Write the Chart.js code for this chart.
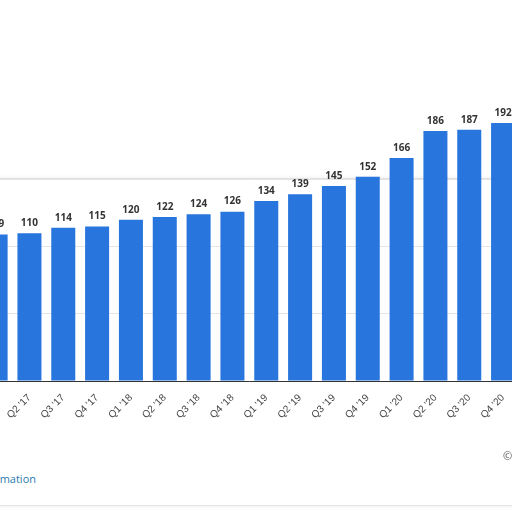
<!DOCTYPE html>
<html>
<head>
<meta charset="utf-8">
<script src="https://cdn.jsdelivr.net/npm/chart.js@4"></script>
<style>
  html, body { margin: 0; width: 512px; height: 512px; overflow: hidden; background: #fff; position: relative; font-family: 'Open Sans', sans-serif; }
  .card { position: absolute; left: -12px; top: 178px; width: 540px; height: 326px; border: 1px solid #e2e2e2; border-radius: 8px; box-shadow: 0 0 4px rgba(0,0,0,0.08); }
  #wrap { position: absolute; left: -28px; top: 0; width: 548px; height: 460px; }
  .info { position: absolute; left: -80px; top: 471px; font-size: 11px; color: #2a7ab0; }
  .copy { position: absolute; left: 503px; top: 448px; font-size: 11px; color: #555; }
</style>
</head>
<body>
<div class="card"></div>
<div id="wrap"><canvas id="c"></canvas></div>
<div class="info">Additional Information</div>
<div class="copy">©</div>
<script>
  const labels = ["Q1 '17","Q2 '17","Q3 '17","Q4 '17","Q1 '18","Q2 '18","Q3 '18","Q4 '18",
                  "Q1 '19","Q2 '19","Q3 '19","Q4 '19","Q1 '20","Q2 '20","Q3 '20","Q4 '20"]
  const values = [109,110,114,115,120,122,124,126,134,139,145,152,166,186,187,192]

  const valueLabels = {
    id: 'valueLabels',
    afterDatasetsDraw(chart) {
      const ctx = chart.ctx
      ctx.save()
      ctx.font = 'bold 10px "Open Sans", sans-serif'
      ctx.fillStyle = '#333'
      ctx.textAlign = 'center'
      ctx.textBaseline = 'bottom'
      chart.getDatasetMeta(0).data.forEach((bar, i) => {
        ctx.fillText(values[i], bar.x, bar.y - 5)
      })
      ctx.restore()
    }
  }

  new Chart(document.getElementById('c'), {
    type: 'bar',
    data: { labels, datasets: [{ data: values, backgroundColor: '#2876dd', barPercentage: 0.71, categoryPercentage: 1 }] },
    options: {
      responsive: true, maintainAspectRatio: false, animation: false,
      layout: { padding: { top: 45, left: 0, right: 0 } },
      plugins: { legend: { display: false }, tooltip: { enabled: false } },
      scales: {
        x: {
          grid: { display: false },
          border: { color: '#333', width: 1 },
          ticks: { color: '#444', font: { size: 10 }, maxRotation: 45, minRotation: 45 },
          afterFit(s) { s.height = 79 }
        },
        y: {
          min: 0, max: 250,
          afterFit(s) { s.width = 0 },
          ticks: { display: false, stepSize: 50 },
          border: { display: false },
          grid: { color: ctx => (ctx.tick && ctx.tick.value > 0 && ctx.tick.value <= 150) ? '#e4e4e4' : 'rgba(0,0,0,0)', drawTicks: false }
        }
      }
    },
    plugins: [valueLabels]
  })
</script>
</body>
</html>
